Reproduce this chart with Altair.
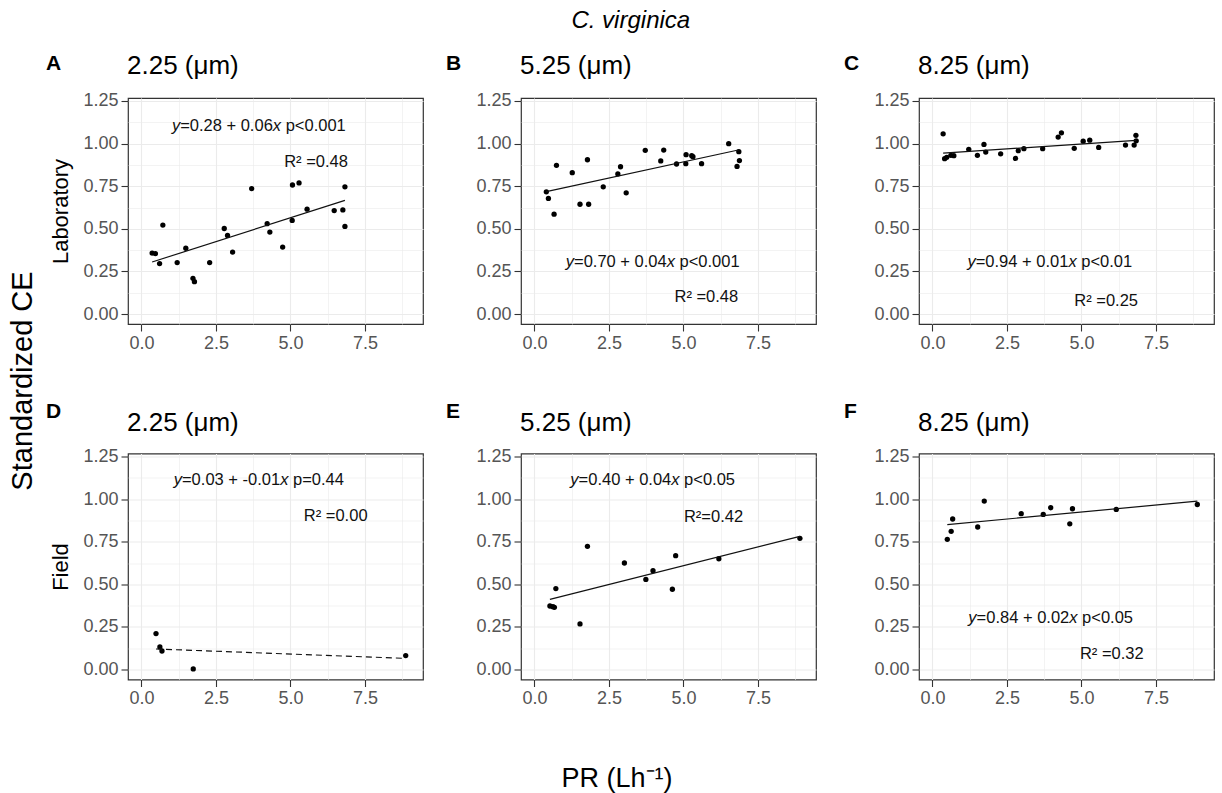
import altair as alt
import pandas as pd

FONT = "Liberation Sans"

# ---------------- data ----------------
A_x = [0.36, 0.47, 0.61, 0.72, 1.20, 1.49, 1.73, 1.78, 2.29, 2.78, 2.89, 3.06,
       3.70, 4.22, 4.31, 4.74, 5.06, 5.07, 5.29, 5.56, 6.47, 6.76, 6.83, 6.83]
A_y = [0.358, 0.354, 0.296, 0.522, 0.302, 0.386, 0.210, 0.190, 0.302, 0.502, 0.461, 0.364,
       0.736, 0.530, 0.481, 0.393, 0.549, 0.757, 0.769, 0.615, 0.607, 0.611, 0.746, 0.514]

B_x = [0.40, 0.47, 0.66, 0.74, 1.27, 1.53, 1.78, 1.82, 2.31, 2.80, 2.89, 3.08, 3.72,
       4.24, 4.34, 4.77, 5.08, 5.09, 5.28, 5.32, 5.61, 6.52, 6.80, 6.86, 6.88]
B_y = [0.717, 0.678, 0.586, 0.872, 0.829, 0.644, 0.905, 0.644, 0.746, 0.822, 0.864, 0.711, 0.960,
       0.898, 0.962, 0.880, 0.882, 0.935, 0.929, 0.923, 0.882, 0.999, 0.866, 0.952, 0.900]

C_x = [0.36, 0.41, 0.48, 0.62, 0.72, 1.22, 1.51, 1.73, 1.79, 2.29, 2.79, 2.88,
       3.07, 3.70, 4.22, 4.33, 4.76, 5.06, 5.28, 5.58, 6.48, 6.77, 6.83, 6.84]
C_y = [1.057, 0.911, 0.919, 0.931, 0.929, 0.966, 0.931, 0.995, 0.950, 0.940, 0.913, 0.958,
       0.970, 0.970, 1.038, 1.063, 0.972, 1.014, 1.020, 0.977, 0.991, 0.991, 1.048, 1.016]

D_x = [0.49, 0.62, 0.69, 1.74, 8.87]
D_y = [0.211, 0.133, 0.109, 0.004, 0.082]

E_x = [0.52, 0.62, 0.67, 0.72, 1.53, 1.78, 3.02, 3.74, 3.98, 4.63, 4.74, 6.19, 8.91]
E_y = [0.373, 0.369, 0.365, 0.475, 0.268, 0.723, 0.625, 0.529, 0.580, 0.471, 0.668, 0.650, 0.770]

F_x = [0.50, 0.63, 0.68, 1.52, 1.74, 2.98, 3.72, 3.97, 4.61, 4.70, 6.17, 8.89]
F_y = [0.764, 0.811, 0.883, 0.836, 0.988, 0.914, 0.910, 0.949, 0.855, 0.943, 0.939, 0.968]

letters = ["A", "B", "C", "D", "E", "F"]
panel_titles = ["2.25 (μm)", "5.25 (μm)", "8.25 (μm)", "2.25 (μm)", "5.25 (μm)", "8.25 (μm)"]
eq_texts = ["y=0.28 + 0.06x p<0.001", "y=0.70 + 0.04x p<0.001", "y=0.94 + 0.01x p<0.01",
            "y=0.03 + -0.01x p=0.44", "y=0.40 + 0.04x p<0.05", "y=0.84 + 0.02x p<0.05"]
eq_x = [3.94, 3.97, 3.94, 3.94, 3.97, 3.97]
eq_y = [1.100, 0.308, 0.308, 1.109, 1.109, 0.305]
r2_texts = ["R² =0.48", "R² =0.48", "R² =0.25", "R² =0.00", "R²=0.42", "R² =0.32"]
r2_x = [5.86, 5.77, 5.83, 6.52, 6.01, 6.02]
r2_y = [0.892, 0.101, 0.078, 0.898, 0.895, 0.090]
row_titles = ["Laboratory", "Field"]

x_ticks = [0, 1.25, 2.5, 3.75, 5, 6.25, 7.5, 8.75]
y_ticks = [0, 0.125, 0.25, 0.375, 0.5, 0.625, 0.75, 0.875, 1.0, 1.125, 1.25]

overall_title = "C. virginica"
y_overall = "Standardized CE"
x_overall = "PR (Lh⁻¹)"

# ---------------- layout helpers ----------------
PW, PH = 295, 226
LABEL_GREY = "#555555"
GRID = "#EBEBEB"
ANN_SIZE = 16.5
# advance widths (per 1000 em) of the Arial-metric font, to place italic pieces
GLYPH_W = {"y": 500, "x": 500, "=": 584, "+": 584, " ": 278, ".": 278, "p": 556,
           "<": 584, "-": 333}


def text_width(s):
    return sum(GLYPH_W.get(c, 556) for c in s) * ANN_SIZE / 1000.0


def axis_kw(step, fmt, title=None):
    major = f"abs(datum.value/{step} - round(datum.value/{step})) < 0.001"
    kw = dict(format=fmt, labelExpr=f"{major} ? datum.label : ''",
              domain=False, grid=True, gridColor=GRID,
              gridWidth={"condition": {"test": major, "value": 1.1}, "value": 0.6},
              tickOpacity={"condition": {"test": major, "value": 1}, "value": 0},
              tickColor="#333333", tickSize=7, tickWidth=1.1,
              labelFontSize=18, labelColor=LABEL_GREY, labelFont=FONT,
              labelPadding=3, labelFlush=False, labelOverlap=False)
    if title is None:
        kw["title"] = None
    else:
        kw.update(title=title, titleFontSize=22, titleFontWeight="normal",
                  titleColor="black", titleFont=FONT, titlePadding=10)
    return kw


def panel(i, xs, ys, dashed=False, row_title=None, letter_dx=-75, letter_y=-45.5,
          title_y=-24, extra=None):
    df = pd.DataFrame({"x": xs, "y": ys})
    xenc = alt.X("x:Q", scale=alt.Scale(domain=[-0.45, 9.45], nice=False, zero=False),
                 axis=alt.Axis(values=x_ticks, **axis_kw(2.5, ".1f")))
    yenc = alt.Y("y:Q", scale=alt.Scale(domain=[-0.058, 1.267], nice=False, zero=False),
                 axis=alt.Axis(values=y_ticks, **axis_kw(0.25, ".2f", row_title)))
    base = alt.Chart(df).encode(x=xenc, y=yenc)
    pts = base.mark_circle(size=28, color="black", opacity=1)
    line_kw = dict(color="#111111", strokeWidth=1.2)
    if dashed:
        line_kw["strokeDash"] = [6, 4]
    fit = base.transform_regression("x", "y").mark_line(**line_kw)
    layers = [pts, fit]

    # equation, with italic y and x (leading spaces turned into offsets)
    eq = eq_texts[i]
    ix = eq.index("x")
    pieces = [("y", True), (eq[1:ix], False), ("x", True), (eq[ix + 1:], False)]
    total = text_width(eq)
    start = -total / 2.0
    eq_df = pd.DataFrame({"x": [eq_x[i]], "y": [eq_y[i]]})
    for s, it in pieces:
        lead = len(s) - len(s.lstrip(" "))
        start += text_width(" " * lead)
        s = s.lstrip(" ")
        layers.append(
            alt.Chart(eq_df).mark_text(
                fontSize=ANN_SIZE, font=FONT, color="#111111", align="left",
                baseline="middle", dx=start, fontStyle="italic" if it else "normal"
            ).encode(x=xenc, y=yenc, text=alt.value(s)))
        start += text_width(s)

    r2_df = pd.DataFrame({"x": [r2_x[i]], "y": [r2_y[i]], "t": [r2_texts[i]]})
    layers.append(alt.Chart(r2_df).mark_text(
        fontSize=ANN_SIZE, font=FONT, color="#111111", align="center",
        baseline="middle").encode(x=xenc, y=yenc, text="t:N"))

    layers.append(alt.Chart(pd.DataFrame({"t": [letters[i]]})).mark_text(
        fontSize=21, fontWeight="bold", font=FONT, color="black",
        align="left", baseline="top").encode(
        x=alt.value(letter_dx), y=alt.value(letter_y), text="t:N"))
    layers.append(alt.Chart(pd.DataFrame({"t": [panel_titles[i]]})).mark_text(
        fontSize=26, font=FONT, color="black", align="left",
        baseline="alphabetic").encode(
        x=alt.value(-1), y=alt.value(title_y), text="t:N"))
    if extra is not None:
        layers.append(extra)
    return alt.layer(*layers).properties(width=PW, height=PH)


xlab = alt.Chart(pd.DataFrame({"t": [x_overall]})).mark_text(
    fontSize=27, font=FONT, color="black", align="center", baseline="alphabetic").encode(
    x=alt.value(96), y=alt.value(333), text="t:N")

pA = panel(0, A_x, A_y, row_title=row_titles[0], letter_dx=-82, letter_y=-45.5)
pB = panel(1, B_x, B_y, letter_y=-45.5)
pC = panel(2, C_x, C_y, letter_y=-45.5)
pD = panel(3, D_x, D_y, dashed=True, row_title=row_titles[1], letter_dx=-82,
           letter_y=-52.5, title_y=-23)
pE = panel(4, E_x, E_y, letter_y=-52.5, title_y=-23, extra=xlab)
pF = panel(5, F_x, F_y, letter_y=-52.5, title_y=-23)

row1 = alt.hconcat(pA, alt.hconcat(pB, pC, spacing=26), spacing=21)
row2 = alt.hconcat(pD, alt.hconcat(pE, pF, spacing=26), spacing=21)
grid = alt.vconcat(row1, row2, spacing=46.5)

ytitle = alt.Chart(pd.DataFrame({"t": [y_overall]})).mark_text(
    fontSize=29, font=FONT, color="black", angle=270, align="center",
    baseline="alphabetic").encode(
    x=alt.value(25), y=alt.value(283), text="t:N").properties(
    width=32, height=560, view=alt.ViewBackground(strokeOpacity=0))

chart = alt.hconcat(ytitle, grid, spacing=6).properties(
    title=alt.TitleParams(overall_title, fontStyle="italic", fontSize=24,
                          fontWeight="normal", font=FONT, anchor="middle",
                          offset=0, dx=20, baseline="alphabetic", color="black"),
    padding={"left": 7, "top": 8, "right": 5, "bottom": 0},
).configure(font=FONT).configure_view(stroke="#333333", strokeWidth=1.2)

chart.save("out.html", embed_options={"renderer": "svg", "actions": False})
